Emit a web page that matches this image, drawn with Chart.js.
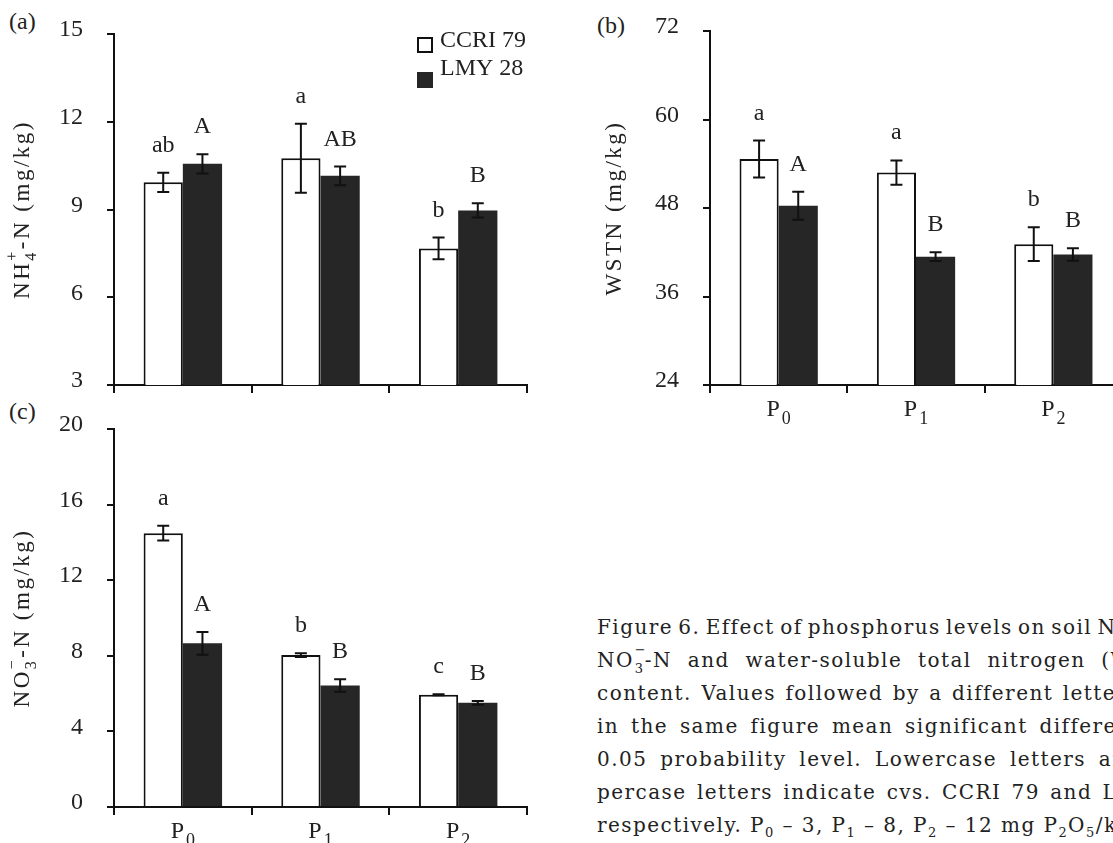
<!DOCTYPE html>
<html>
<head>
<meta charset="utf-8">
<script src="https://cdn.jsdelivr.net/npm/chart.js@4.4.1/dist/chart.umd.min.js"></script>
<style>
  html, body { margin: 0; padding: 0; background: #fff; overflow: hidden; width: 1113px; height: 843px; }
  canvas { position: absolute; }
  .tag { position: absolute; font: 24px "Liberation Serif", serif; color: #222; line-height: 28px; }
  #caption { position: absolute; left: 597px; top: 611px; width: 516px; overflow: hidden;
             font-family: "DejaVu Serif", serif; font-size: 20px; letter-spacing: 1.45px;
             color: #222; }
  #caption div { white-space: nowrap; height: 33px; line-height: 33px; }
  #caption sub { font-size: 13px; vertical-align: -5px; line-height: 0; }
  .stk { position: relative; display: inline-block; width: 11px; height: 10px; }
  .stk span { position: absolute; left: 1px; font-size: 13px; line-height: 13px; }
  .stk .up { top: -14px; }
  .stk .dn { top: 5px; }
</style>
</head>
<body>
<div class="tag" style="left:9px;top:7px">(a)</div>
<div class="tag" style="left:597px;top:11px">(b)</div>
<div class="tag" style="left:9px;top:397px">(c)</div>

<canvas id="chartA" width="560" height="395" style="left:0;top:0"></canvas>
<canvas id="chartB" width="600" height="430" style="left:560px;top:0"></canvas>
<canvas id="chartC" width="560" height="448" style="left:0;top:395px"></canvas>

<!-- word-spacing per line stands in for the justified column of the original -->
<div id="caption">
  <div style="word-spacing:-2.5px">Figure 6. Effect of phosphorus levels on soil NH<span class="stk"><span class="up">+</span><span class="dn">4</span></span>-N,</div>
  <div style="word-spacing:8px">NO<span class="stk"><span class="up">&minus;</span><span class="dn">3</span></span>-N and water-soluble total nitrogen (WSTN)</div>
  <div style="word-spacing:1.7px">content. Values followed by a different letter</div>
  <div style="word-spacing:4px">in the same figure mean significant difference at</div>
  <div style="word-spacing:5px">0.05 probability level. Lowercase letters and up-</div>
  <div style="word-spacing:2.5px">percase letters indicate cvs. CCRI 79 and LMY 28,</div>
  <div>respectively. P<sub>0</sub> &ndash; 3, P<sub>1</sub> &ndash; 8, P<sub>2</sub> &ndash; 12 mg P<sub>2</sub>O<sub>5</sub>/kg</div>
</div>

<script>
// phosphorus levels (first letter drawn normal, rest as subscript)
const levels = ["P0", "P1", "P2"];
const cultivars = ["CCRI 79", "LMY 28"];

// (a) NH4+-N, mg/kg
const nh4Ccri = [9.93, 10.75, 7.67];
const nh4CcriErr = [0.33, 1.18, 0.37];
const nh4Lmy = [10.56, 10.15, 8.97];
const nh4LmyErr = [0.33, 0.32, 0.24];
const nh4CcriLetters = ["ab", "a", "b"];
const nh4LmyLetters = ["A", "AB", "B"];
const nh4Ticks = [3, 15, 3];

// (b) WSTN, mg/kg
const wstnCcri = [54.65, 52.8, 43.1];
const wstnCcriErr = [2.5, 1.65, 2.3];
const wstnLmy = [48.3, 41.4, 41.7];
const wstnLmyErr = [1.9, 0.6, 0.85];
const wstnCcriLetters = ["a", "a", "b"];
const wstnLmyLetters = ["A", "B", "B"];
const wstnTicks = [24, 72, 12];

// (c) NO3--N, mg/kg
const no3Ccri = [14.49, 8.04, 5.94];
const no3CcriErr = [0.39, 0.1, 0.03];
const no3Lmy = [8.66, 6.43, 5.51];
const no3LmyErr = [0.6, 0.33, 0.1];
const no3CcriLetters = ["a", "b", "c"];
const no3LmyLetters = ["A", "B", "B"];
const no3Ticks = [0, 20, 4];

const ink = "#111";
const textCol = "#222";
const dark = "#262626";
const serif = '"Liberation Serif", serif';

// error bars, letters, y title, x labels, legend
const decor = {
  id: "decor",
  afterDatasetsDraw(chart, args, o) {
    const ctx = chart.ctx;
    const ys = chart.scales.y, xs = chart.scales.x;
    const area = chart.chartArea;
    ctx.save();
    chart.data.datasets.forEach((ds, di) => {
      chart.getDatasetMeta(di).data.forEach((bar, i) => {
        const top = ys.getPixelForValue(ds.data[i] + ds.errors[i]);
        const bot = ys.getPixelForValue(ds.data[i] - ds.errors[i]);
        ctx.strokeStyle = ink;
        ctx.lineWidth = 2;
        ctx.beginPath();
        ctx.moveTo(bar.x, top); ctx.lineTo(bar.x, bot);
        ctx.moveTo(bar.x - 6, top); ctx.lineTo(bar.x + 6, top);
        ctx.moveTo(bar.x - 6, bot); ctx.lineTo(bar.x + 6, bot);
        ctx.stroke();
        ctx.fillStyle = textCol;
        ctx.font = "24px " + serif;
        ctx.textAlign = "center";
        ctx.textBaseline = "alphabetic";
        ctx.fillText(ds.letters[i], bar.x, top - 21);
      });
    });

    // y axis title, rotated, with stacked sub/superscript
    ctx.translate(o.titleX, (area.top + area.bottom) / 2);
    ctx.rotate(-Math.PI / 2);
    ctx.letterSpacing = "2.5px";
    ctx.fillStyle = textCol;
    ctx.textBaseline = "middle";
    ctx.textAlign = "left";
    const big = "23px " + serif, small = "16px " + serif;
    let w = 0;
    o.title.forEach(p => {
      if (p.t) { ctx.font = big; w += ctx.measureText(p.t).width; }
      else { ctx.font = small; w += Math.max(ctx.measureText(p.sub).width, ctx.measureText(p.sup).width); }
    });
    let x = -w / 2;
    o.title.forEach(p => {
      if (p.t) {
        ctx.font = big; ctx.fillText(p.t, x, 0); x += ctx.measureText(p.t).width;
      } else {
        ctx.font = small;
        ctx.fillText(p.sup, x, -10);
        ctx.fillText(p.sub, x, 9);
        x += Math.max(ctx.measureText(p.sub).width, ctx.measureText(p.sup).width);
      }
    });
    ctx.restore();

    // x labels P0, P1, P2
    if (o.xLabels) {
      ctx.save();
      ctx.fillStyle = textCol;
      ctx.textBaseline = "alphabetic";
      ctx.textAlign = "left";
      chart.data.labels.forEach((lab, i) => {
        const cx = xs.getPixelForValue(i);
        ctx.font = "24px " + serif;
        const w1 = ctx.measureText(lab[0]).width;
        ctx.font = "18px " + serif;
        const w2 = ctx.measureText(lab.slice(1)).width;
        const x0 = cx - (w1 + 2 + w2) / 2;
        const base = area.bottom + 31;
        ctx.font = "24px " + serif;
        ctx.fillText(lab[0], x0, base);
        ctx.font = "18px " + serif;
        ctx.fillText(lab.slice(1), x0 + w1 + 2, base + 8);
      });
      ctx.restore();
    }

    // legend
    if (o.legend) {
      ctx.save();
      const lx = o.legend.x, ly = o.legend.y;
      chart.data.datasets.forEach((ds, di) => {
        const by = ly + di * 35;
        ctx.fillStyle = ds.backgroundColor;
        ctx.fillRect(lx, by, 16, 16);
        if (ds.borderWidth) {
          ctx.strokeStyle = ds.borderColor; ctx.lineWidth = 2;
          ctx.strokeRect(lx + 1, by + 1, 14, 14);
        }
        ctx.fillStyle = textCol;
        ctx.font = "24px " + serif;
        ctx.textAlign = "left";
        ctx.textBaseline = "alphabetic";
        ctx.fillText(ds.label, lx + 23, by + 10 - (di ? 7 : 0));
      });
      ctx.restore();
    }
  }
};

function panel(id, o) {
  return new Chart(document.getElementById(id), {
    type: "bar",
    data: {
      labels: levels,
      datasets: [
        { label: cultivars[0], data: o.ccri, errors: o.ccriErr, letters: o.ccriLetters,
          backgroundColor: "#fff", borderColor: ink, borderWidth: 2, borderSkipped: "start",
          categoryPercentage: 0.57, barPercentage: 1 },
        { label: cultivars[1], data: o.lmy, errors: o.lmyErr, letters: o.lmyLetters,
          backgroundColor: dark, borderWidth: 0,
          categoryPercentage: 0.57, barPercentage: 1 }
      ]
    },
    options: {
      responsive: false,
      animation: false,
      layout: { padding: { left: 0, right: o.right, top: o.top, bottom: 0 } },
      plugins: {
        legend: { display: false },
        tooltip: { enabled: false },
        decor: { title: o.title, titleX: o.titleX, xLabels: o.xLabels, legend: o.legend }
      },
      scales: {
        x: {
          grid: { drawOnChartArea: false, color: ink, lineWidth: 2, tickLength: 8, offset: true },
          border: { color: ink, width: 2 },
          ticks: { display: false },
          afterFit(s) { s.height = o.xh; s.paddingLeft = 0; s.paddingRight = 0; }
        },
        y: {
          min: o.ticks[0], max: o.ticks[1],
          ticks: { stepSize: o.ticks[2], color: textCol, font: { family: serif, size: 24 }, padding: 24, labelOffset: -4 },
          grid: { drawOnChartArea: false, color: ink, lineWidth: 2, tickLength: 7 },
          border: { color: ink, width: 2 },
          // keep the plot box where the figure has it
          afterFit(s) { s.width = o.yw; s.paddingTop = 0; s.paddingBottom = 0; }
        }
      }
    },
    plugins: [decor]
  });
}

panel("chartA", {
  ccri: nh4Ccri, ccriErr: nh4CcriErr, ccriLetters: nh4CcriLetters,
  lmy: nh4Lmy, lmyErr: nh4LmyErr, lmyLetters: nh4LmyLetters,
  ticks: nh4Ticks, top: 34, right: 33, yw: 114, xh: 10,
  title: [{ t: "NH" }, { sub: "4", sup: "+" }, { t: "-N (mg/kg)" }], titleX: 23,
  xLabels: false, legend: { x: 417, y: 37 }
});

panel("chartB", {
  ccri: wstnCcri, ccriErr: wstnCcriErr, ccriLetters: wstnCcriLetters,
  lmy: wstnLmy, lmyErr: wstnLmyErr, lmyLetters: wstnLmyLetters,
  ticks: wstnTicks, top: 31, right: 38, yw: 150, xh: 45,
  title: [{ t: "WSTN (mg/kg)" }], titleX: 55,
  xLabels: true, legend: null
});

panel("chartC", {
  ccri: no3Ccri, ccriErr: no3CcriErr, ccriLetters: no3CcriLetters,
  lmy: no3Lmy, lmyErr: no3LmyErr, lmyLetters: no3LmyLetters,
  ticks: no3Ticks, top: 34, right: 33, yw: 114, xh: 36,
  title: [{ t: "NO" }, { sub: "3", sup: "\u2212" }, { t: "-N (mg/kg)" }], titleX: 23,
  xLabels: true, legend: null
});
</script>
</body>
</html>
